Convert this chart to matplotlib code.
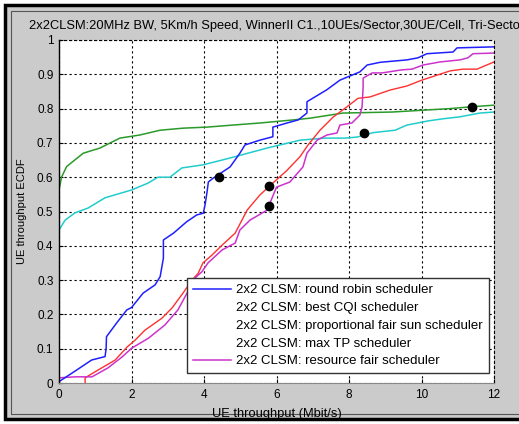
import matplotlib.pyplot as plt
from matplotlib.lines import Line2D
from matplotlib.patches import Rectangle

plt.rcParams['font.family'] = ['Liberation Sans', 'DejaVu Sans']

# round robin (blue)
rr_x = [0, 0.49, 0.9, 1.27, 1.3, 1.31, 1.59, 1.87, 2.0, 2.32, 2.65, 2.79, 2.88, 2.88, 3.16, 3.52, 3.8,
        3.98, 4.03, 4.08, 4.12, 4.25, 4.72, 4.99, 5.13, 5.54, 5.9, 5.9, 6.29, 6.6, 6.84, 6.84, 7.39,
        7.75, 8.3, 8.5, 8.86, 9.6, 9.9, 10.15, 10.87, 10.98, 12.0]
rr_y = [0.004, 0.038, 0.067, 0.077, 0.10, 0.135, 0.175, 0.213, 0.22, 0.262, 0.286, 0.31, 0.364, 0.417,
        0.437, 0.47, 0.49, 0.495, 0.52, 0.554, 0.586, 0.597, 0.63, 0.67, 0.694, 0.708, 0.718, 0.746,
        0.758, 0.767, 0.787, 0.82, 0.855, 0.883, 0.907, 0.927, 0.935, 0.942, 0.948, 0.96, 0.965,
        0.977, 0.98]

# best CQI (green)
cqi_x = [0, 0, 0.07, 0.21, 0.67, 1.13, 1.68, 2.23, 2.79, 3.43, 4.08, 4.8, 5.54, 6.46, 6.92, 7.83,
         9.19, 10.15, 10.79, 11.34, 12.0]
cqi_y = [0.0, 0.563, 0.60, 0.631, 0.67, 0.685, 0.714, 0.723, 0.737, 0.743, 0.746, 0.752, 0.758,
         0.767, 0.772, 0.787, 0.79, 0.796, 0.80, 0.805, 0.81]

# proportional fair sum (cyan)
pf_x = [0, 0, 0.17, 0.44, 0.8, 1.27, 2.01, 2.46, 2.73, 3.06, 3.39, 3.97, 4.5, 4.86, 5.74, 6.65,
        7.34, 7.89, 8.22, 8.67, 9.27, 9.6, 10.18, 10.57, 11.06, 11.61, 12.0]
pf_y = [0.0, 0.446, 0.475, 0.496, 0.51, 0.54, 0.563, 0.583, 0.60, 0.60, 0.627, 0.636, 0.65, 0.66,
        0.685, 0.708, 0.714, 0.714, 0.717, 0.73, 0.737, 0.752, 0.764, 0.77, 0.776, 0.787, 0.79]

# max TP (red)
mtp_x = [0.72, 0.72, 1.08, 1.55, 1.88, 2.1, 2.37, 2.84, 3.12, 3.42, 3.67, 3.84, 3.97, 4.22, 4.5,
         4.86, 5.19, 5.54, 5.9, 6.29, 6.65, 6.87, 7.2, 7.56, 7.94, 8.25, 8.58, 9.13, 9.6, 10.01,
         10.79, 11.14, 11.53, 12.0]
mtp_y = [0.0, 0.015, 0.038, 0.067, 0.105, 0.125, 0.154, 0.189, 0.219, 0.262, 0.30, 0.32, 0.35,
         0.373, 0.402, 0.437, 0.504, 0.548, 0.583, 0.62, 0.66, 0.694, 0.737, 0.775, 0.805, 0.83,
         0.834, 0.854, 0.866, 0.883, 0.91, 0.915, 0.915, 0.936]

# resource fair (magenta)
rf_x = [0, 0.44, 0.91, 1.35, 1.74, 2.01, 2.46, 2.92, 3.28, 3.47, 3.75, 3.94, 4.11, 4.5, 4.86, 4.99,
        5.27, 5.74, 6.0, 6.37, 6.73, 6.84, 7.12, 7.39, 7.67, 7.75, 8.08, 8.3, 8.36, 8.39, 8.39,
        8.64, 8.91, 9.46, 9.74, 10.04, 10.51, 11.06, 11.28, 11.42, 12.0]
rf_y = [0.015, 0.018, 0.018, 0.044, 0.076, 0.102, 0.13, 0.169, 0.213, 0.25, 0.306, 0.324, 0.35,
        0.388, 0.408, 0.446, 0.475, 0.504, 0.571, 0.586, 0.63, 0.67, 0.708, 0.723, 0.729, 0.752,
        0.758, 0.781, 0.805, 0.863, 0.889, 0.904, 0.904, 0.913, 0.915, 0.927, 0.936, 0.942,
        0.948, 0.96, 0.962]

# mean markers
mean_x = [4.41, 5.79, 5.79, 8.41, 11.39]
mean_y = [0.60, 0.574, 0.516, 0.729, 0.805]

labels = ['2x2 CLSM: round robin scheduler', '2x2 CLSM: best CQI scheduler',
          '2x2 CLSM: proportional fair sun scheduler', '2x2 CLSM: max TP scheduler',
          '2x2 CLSM: resource fair scheduler']

fig = plt.figure(figsize=(5.19, 4.24), dpi=100)
fig.patch.set_facecolor('white')
W, H = 519, 424
# grey window with black frame
fig.patches.append(Rectangle((5 / W, 5 / H), 530 / W, 414 / H, transform=fig.transFigure,
                             facecolor='#cbcbcb', edgecolor='black', linewidth=2.5, zorder=-2))
fig.patches.append(Rectangle((11 / W, 10 / H), 530 / W, 403 / H, transform=fig.transFigure,
                             facecolor='none', edgecolor='#555555', linewidth=0.8, zorder=-1))

ax = fig.add_axes([59 / W, 41 / H, 435 / W, 343 / H])
ax.set_facecolor('white')

ax.plot(cqi_x, cqi_y, color='#2a9a2a', lw=1.1)
ax.plot(pf_x, pf_y, color='#22cccc', lw=1.1)
ax.plot(mtp_x, mtp_y, color='#ff3030', lw=1.0)
ax.plot(rf_x, rf_y, color='#cc33cc', lw=1.1)
ax.plot(rr_x, rr_y, color='#2020ff', lw=1.1)
ax.plot(mean_x, mean_y, 'o', color='black', markersize=6, zorder=5)

ax.set_xlim(0, 12)
ax.set_ylim(0, 1)
ax.set_xticks(range(0, 13, 2))
ax.set_yticks([i / 10 for i in range(11)])
ax.set_yticklabels(['0', '0.1', '0.2', '0.3', '0.4', '0.5', '0.6', '0.7', '0.8', '0.9', '1'])
ax.tick_params(direction='in', length=3, labelsize=8.5, pad=4, color='black')
ax.grid(True, color='black', linestyle=(0, (2, 2.5)), linewidth=0.8)
for s in ['top', 'right']:
    ax.spines[s].set_linestyle((0, (2, 2.5)))
    ax.spines[s].set_linewidth(0.8)
ax.spines['left'].set_linewidth(1.0)
ax.spines['bottom'].set_color('#888888')

ax.set_title('2x2CLSM:20MHz BW, 5Km/h Speed, WinnerII C1.,10UEs/Sector,30UE/Cell, Tri-Sector',
             fontsize=9.3, pad=8)
ax.set_xlabel('UE throughput (Mbit/s)', fontsize=9.3, labelpad=5)
ax.set_ylabel('UE throughput ECDF', fontsize=8, labelpad=7)

handles = [Line2D([], [], color='#2020ff', lw=1.1),
           Line2D([], [], color='none'),
           Line2D([], [], color='none'),
           Line2D([], [], color='none'),
           Line2D([], [], color='#cc33cc', lw=1.1)]
leg = ax.legend(handles, labels, loc='upper left', bbox_to_anchor=(0.294, 0.306), fontsize=9.5,
                handlelength=2.9, handletextpad=0.4, labelspacing=0.42, borderpad=0.45,
                fancybox=False, framealpha=1, edgecolor='#333333', borderaxespad=0)
leg.get_frame().set_linewidth(1.0)

fig.savefig('out.png', dpi=100)
